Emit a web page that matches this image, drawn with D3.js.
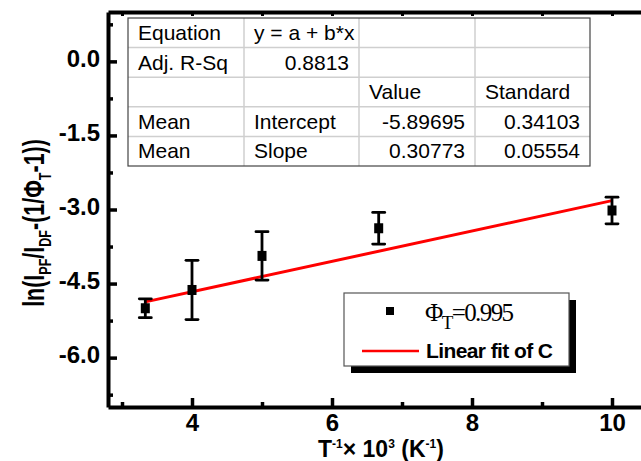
<!DOCTYPE html>
<html lang="en">
<head>
<meta charset="UTF-8">
<script src="https://d3js.org/d3.v7.min.js"></script>
<title>ln plot</title>
<style>
  body { margin: 0; background: #fff; }
  svg { display: block; }
  .axis path, .axis line { stroke: #000; }
  .axis text { font-family: "Liberation Sans", Arial, sans-serif; font-weight: bold; font-size: 24px; fill: #000; }
  .tbl text { font-family: "Liberation Sans", Arial, sans-serif; font-size: 21px; fill: #000; }
</style>
</head>
<body>
<div id="chart"></div>
<script>
// data
var invT = [3.333, 4, 5, 6.667, 10];
var lnRatio = [-5.00, -4.63, -3.94, -3.38, -3.02];
var lnErr = [0.19, 0.60, 0.49, 0.32, 0.27];
var fitIntercept = -5.89695;
var fitSlope = 0.30773;

var xTicks = [4, 6, 8, 10];
var xMinor = [3, 5, 7, 9];
var yTicks = [0, -1.5, -3, -4.5, -6];
var yMinor = [0.75, -0.75, -2.25, -3.75, -5.25, -6.75];

// fit table rows
var tableRows = [
  ["Equation", "y = a + b*x", "", ""],
  ["Adj. R-Sq", "0.8813", "", ""],
  ["", "", "Value", "Standard"],
  ["Mean", "Intercept", "-5.89695", "0.34103"],
  ["Mean", "Slope", "0.30773", "0.05554"]
];

var width = 641, height = 461;

var svg = d3.select('#chart').append('svg')
    .attr('width', width)
    .attr('height', height);

var x = d3.scaleLinear().domain([2.8, 10.6]).range([108, 654]);
var y = d3.scaleLinear().domain([-7, 1]).range([407, 12]);

// minor ticks first
svg.append('g').attr('class', 'axis')
    .attr('transform', 'translate(108,0)')
    .call(d3.axisLeft(y).tickValues(yMinor).tickSize(-5).tickSizeOuter(0).tickFormat(''))
    .call(function(g) { g.select('.domain').remove(); g.selectAll('line').attr('stroke-width', 3.5); });
svg.append('g').attr('class', 'axis')
    .attr('transform', 'translate(0,407)')
    .call(d3.axisBottom(x).tickValues(xMinor).tickSize(-5).tickSizeOuter(0).tickFormat(''))
    .call(function(g) { g.select('.domain').remove(); g.selectAll('line').attr('stroke-width', 3.5); });
svg.append('g').attr('class', 'axis')
    .attr('transform', 'translate(0,12)')
    .call(d3.axisTop(x).tickValues(xTicks.concat(xMinor)).tickSize(-4).tickSizeOuter(0).tickFormat(''))
    .call(function(g) { g.selectAll('line').attr('stroke-width', 3); g.select('.domain').attr('stroke-width', 4); });

// major axes
svg.append('g').attr('class', 'axis')
    .attr('transform', 'translate(108,0)')
    .call(d3.axisLeft(y).tickValues(yTicks).tickSize(-9).tickSizeOuter(0).tickPadding(8)
        .tickFormat(function(d) { return d.toFixed(1); }))
    .call(function(g) {
      g.select('.domain').attr('stroke-width', 4);
      g.selectAll('line').attr('stroke-width', 3.5);
      g.selectAll('text').attr('dy', '0.22em');
    });
svg.append('g').attr('class', 'axis')
    .attr('transform', 'translate(0,407)')
    .call(d3.axisBottom(x).tickValues(xTicks).tickSize(-9).tickSizeOuter(0).tickPadding(7)
        .tickFormat(d3.format('d')))
    .call(function(g) {
      g.select('.domain').attr('stroke-width', 4);
      g.selectAll('line').attr('stroke-width', 3.5);
    });

// fit table
var colX = [128, 244, 359, 475, 590];
var rowH = (166 - 18) / tableRows.length;
var tbl = svg.append('g').attr('class', 'tbl');
tbl.append('rect').attr('x', colX[0]).attr('y', 18)
    .attr('width', colX[4] - colX[0]).attr('height', 166 - 18)
    .attr('fill', '#fff').attr('stroke', 'none');
for (var r = 1; r < tableRows.length; r++) {
  tbl.append('line').attr('x1', colX[0]).attr('x2', colX[4])
      .attr('y1', 18 + r * rowH).attr('y2', 18 + r * rowH)
      .attr('stroke', '#cfcfcf').attr('stroke-width', 1.5);
}
for (var c = 1; c < 4; c++) {
  tbl.append('line').attr('x1', colX[c]).attr('x2', colX[c])
      .attr('y1', 18).attr('y2', 166)
      .attr('stroke', '#cfcfcf').attr('stroke-width', 1.5);
}
tbl.append('rect').attr('x', colX[0]).attr('y', 18)
    .attr('width', colX[4] - colX[0]).attr('height', 166 - 18)
    .attr('fill', 'none').attr('stroke', '#444').attr('stroke-width', 1.2);

tableRows.forEach(function(row, ri) {
  row.forEach(function(cell, ci) {
    if (!cell) return;
    var numeric = /^-?[0-9.]+$/.test(cell);
    tbl.append('text')
        .attr('x', numeric ? colX[ci + 1] - 10 : colX[ci] + 10)
        .attr('y', 18 + ri * rowH + 22)
        .attr('text-anchor', numeric ? 'end' : 'start')
        .text(cell);
  });
});

// linear fit
var fitX = d3.extent(invT);
svg.append('line')
    .attr('x1', x(fitX[0])).attr('y1', y(fitIntercept + fitSlope * fitX[0]))
    .attr('x2', x(fitX[1])).attr('y2', y(fitIntercept + fitSlope * fitX[1]))
    .attr('stroke', '#ff0000').attr('stroke-width', 3);

// error bars and points
var pts = invT.map(function(v, i) { return { x: v, y: lnRatio[i], e: lnErr[i] }; });
var eb = svg.append('g').attr('stroke', '#000').attr('stroke-width', 2.8);
eb.selectAll('.stem').data(pts).enter().append('line')
    .attr('x1', function(d) { return x(d.x); }).attr('x2', function(d) { return x(d.x); })
    .attr('y1', function(d) { return y(d.y + d.e); }).attr('y2', function(d) { return y(d.y - d.e); });
[1, -1].forEach(function(s) {
  eb.selectAll('.cap' + s).data(pts).enter().append('line')
      .attr('x1', function(d) { return x(d.x) - 6; }).attr('x2', function(d) { return x(d.x) + 6; })
      .attr('y1', function(d) { return y(d.y + s * d.e); }).attr('y2', function(d) { return y(d.y + s * d.e); })
      .attr('stroke-linecap', 'round');
});
svg.selectAll('.pt').data(pts).enter().append('rect')
    .attr('x', function(d) { return x(d.x) - 4.5; })
    .attr('y', function(d) { return y(d.y) - 5; })
    .attr('width', 9).attr('height', 10)
    .attr('fill', '#000');

// legend
var lg = svg.append('g');
lg.append('rect').attr('x', 351).attr('y', 300).attr('width', 225).attr('height', 73).attr('fill', '#000');
lg.append('rect').attr('x', 344).attr('y', 293).attr('width', 225).attr('height', 73)
    .attr('fill', '#fff').attr('stroke', '#555').attr('stroke-width', 1.2);
lg.append('rect').attr('x', 386).attr('y', 307).attr('width', 8).attr('height', 8).attr('fill', '#000');
var lt = lg.append('text').attr('x', 425).attr('y', 321)
    .style('font-family', '"Liberation Serif", "Times New Roman", serif')
    .style('font-size', '25px').style('letter-spacing', '-1.6px');
lt.append('tspan').text('Φ');
lt.append('tspan').attr('dy', 8).style('font-size', '19px').text('T');
lt.append('tspan').attr('dy', -8).text('=0.995');
lg.append('line').attr('x1', 362).attr('x2', 419).attr('y1', 351).attr('y2', 351)
    .attr('stroke', '#ff0000').attr('stroke-width', 2.5);
lg.append('text').attr('x', 426).attr('y', 358)
    .style('font-family', '"Liberation Sans", Arial, sans-serif')
    .style('font-weight', 'bold').style('font-size', '21px').style('letter-spacing', '-0.6px')
    .text('Linear fit of C');

// axis titles
var xt = svg.append('text').attr('x', 318).attr('y', 457)
    .style('font-family', '"Liberation Sans", Arial, sans-serif')
    .style('font-weight', 'bold').style('font-size', '23px');
xt.append('tspan').text('T');
xt.append('tspan').attr('dy', -9).style('font-size', '12px').text('-1');
xt.append('tspan').attr('dy', 9).text('× 10');
xt.append('tspan').attr('dy', -9).style('font-size', '12px').text('3');
xt.append('tspan').attr('dy', 9).text(' (K');
xt.append('tspan').attr('dy', -9).style('font-size', '12px').text('-1');
xt.append('tspan').attr('dy', 9).text(')');

var yt = svg.append('text')
    .attr('transform', 'translate(44,223) rotate(-90) scale(0.74,1)')
    .attr('text-anchor', 'middle')
    .style('font-family', '"Liberation Sans", Arial, sans-serif')
    .style('font-weight', 'bold').style('font-size', '29px');
yt.append('tspan').text('ln(I');
yt.append('tspan').attr('dy', 7).style('font-size', '17px').text('PF');
yt.append('tspan').attr('dy', -7).text('/I');
yt.append('tspan').attr('dy', 7).style('font-size', '17px').text('DF');
yt.append('tspan').attr('dy', -7).text('-(1/Φ');
yt.append('tspan').attr('dy', 7).style('font-size', '17px').text('T');
yt.append('tspan').attr('dy', -7).text('-1))');
</script>
</body>
</html>
